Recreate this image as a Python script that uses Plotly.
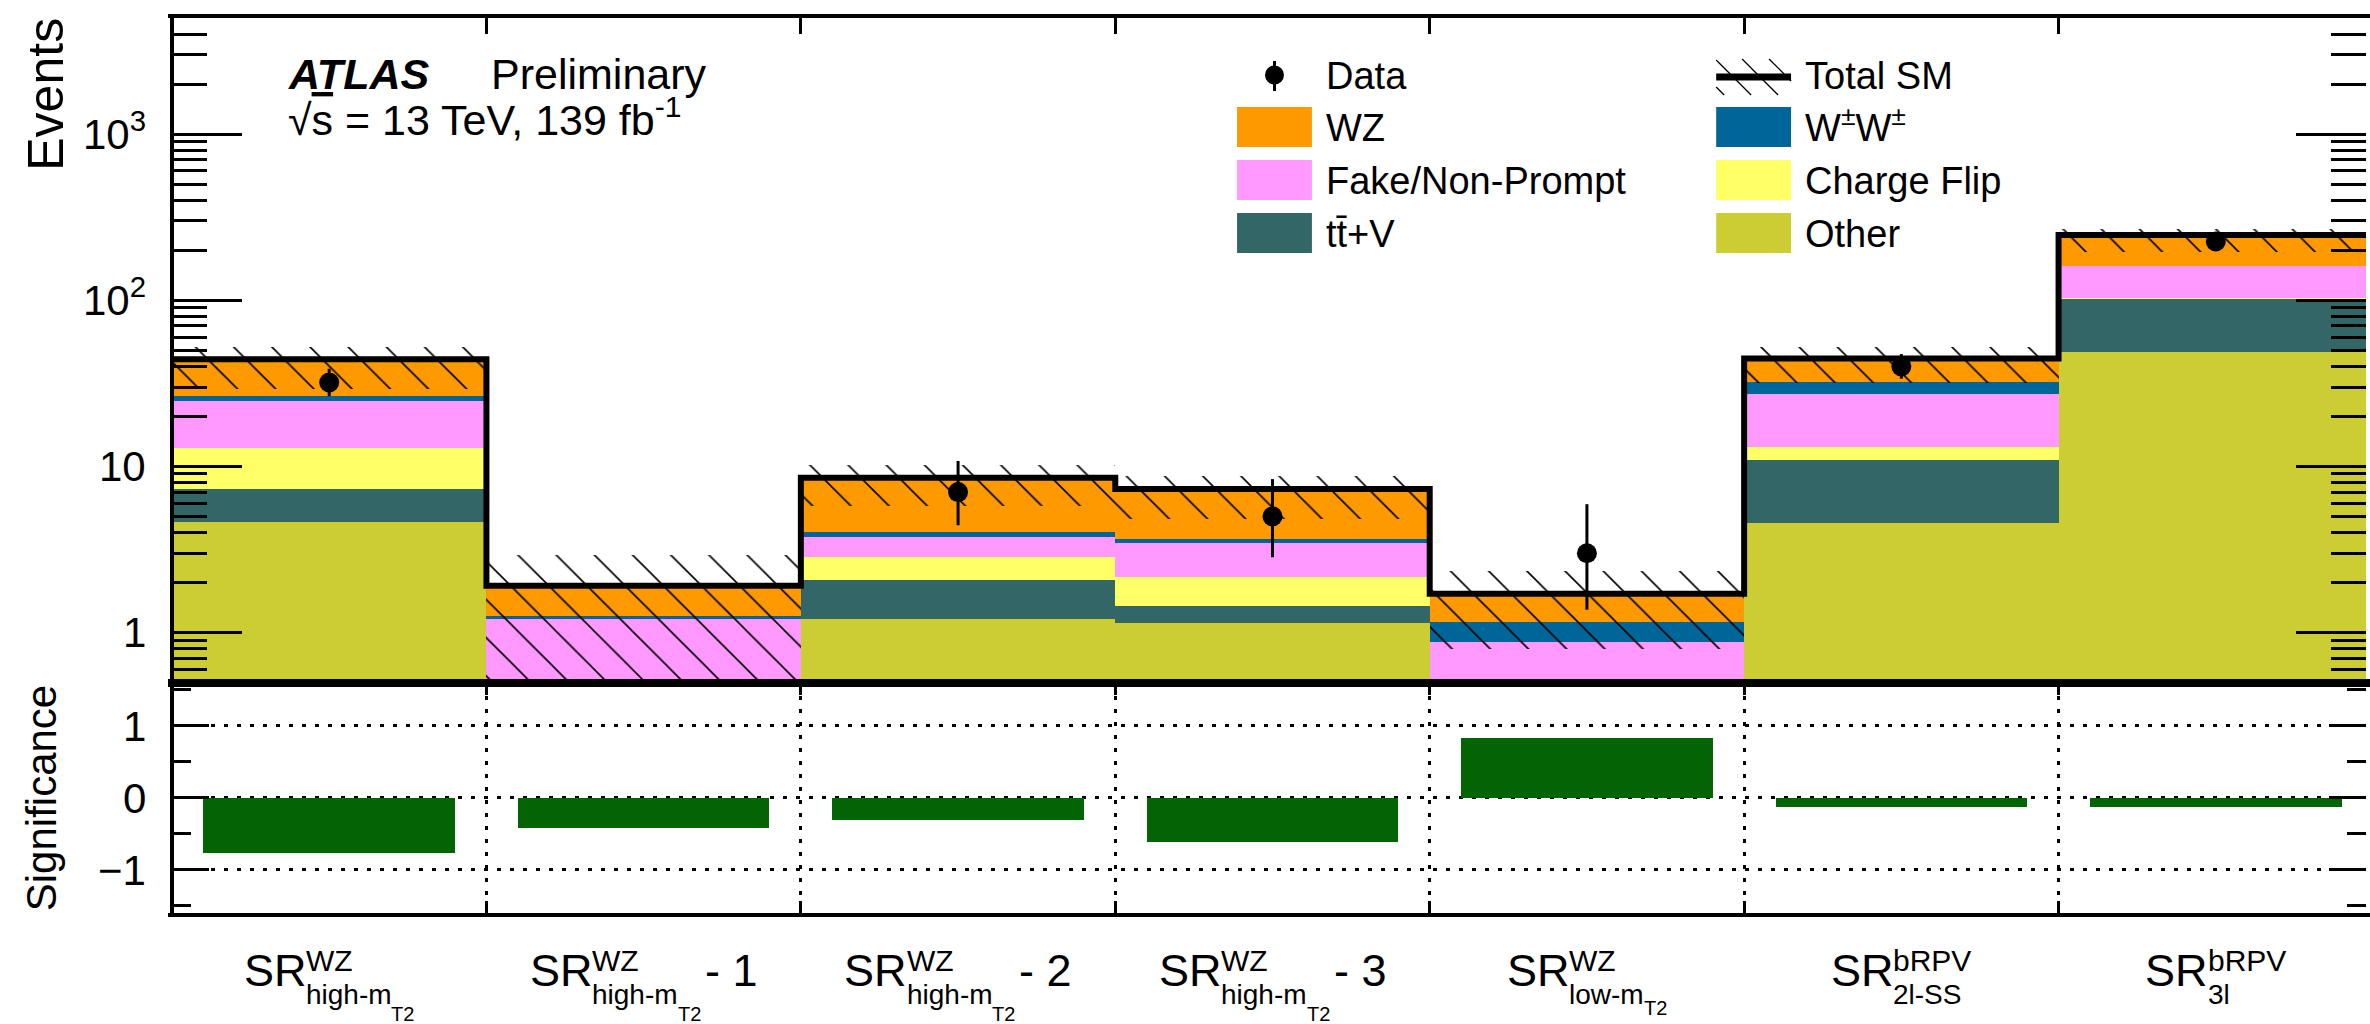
import math
import plotly.graph_objects as go

# ---------------------------------------------------------------
# Expected background yields per signal region (stack bottom -> top)
# ---------------------------------------------------------------
other       = [4.6, 0.04, 1.20, 1.14, 0.06, 4.58, 48.9]
ttv         = [2.7, 0.03, 0.86, 0.31, 0.02, 6.32, 54.1]
charge_flip = [5.6, 0.0, 0.80, 0.70, 0.0, 2.2, 0.2]
fake_np     = [11.9, 1.13, 0.88, 1.29, 0.80, 14.0, 57.7]
ww_ss       = [1.8, 0.06, 0.31, 0.22, 0.27, 4.9, 0.4]
wz          = [17.6, 0.65, 4.50, 3.65, 0.56, 12.6, 85.7]

# total SM uncertainty band (asymmetric)
sm_err_up = [8.2, 1.0, 1.6, 1.5, 0.62, 7.9, 21.0]
sm_err_dn = [14.8, 1.6, 2.8, 2.5, 0.91, 13.0, 53.0]

# observed data with Poisson intervals
data        = [32, 0, 7, 5, 3, 40, 226]
data_err_up = [6.7, 1.84, 3.77, 3.38, 2.92, 7.4, 16.0]
data_err_dn = [5.6, 0.0, 2.58, 2.16, 1.63, 6.3, 15.0]

# significance of data w.r.t. SM expectation
significance = [-0.76, -0.41, -0.30, -0.61, 0.84, -0.12, -0.12]

# bin label pieces: SR^{sup}_{sub_{subsub}} suffix
label_main   = ["SR", "SR", "SR", "SR", "SR", "SR", "SR"]
label_sup    = ["WZ", "WZ", "WZ", "WZ", "WZ", "bRPV", "bRPV"]
label_sub    = ["high-m", "high-m", "high-m", "high-m", "low-m", "2l-SS", "3l"]
label_subsub = ["T2", "T2", "T2", "T2", "T2", "", ""]
label_suffix = ["", "- 1", "- 2", "- 3", "", "", ""]

# y-axis tick labels
main_tickvals = [1, 10, 100, 1000]
main_ticktext = ["1", "10", "10<sup>2</sup>", "10<sup>3</sup>"]
sig_tickvals = [-1, 0, 1]
sig_ticktext = ["\u22121", "0", "1"]

# ---------------------------------------------------------------
# Styling
# ---------------------------------------------------------------
FONT = "Liberation Sans, Arial, Helvetica, sans-serif"
C_WZ, C_WW, C_FAKE = "#FF9900", "#006699", "#FF99FF"
C_CF, C_TTV, C_OTHER = "#FFFF66", "#336666", "#CCCC33"
C_SIG = "#036403"
stack_colors = [C_OTHER, C_TTV, C_CF, C_FAKE, C_WW, C_WZ]

W, H = 2370, 1024
ML, MR, MT, MB = 172, 0, 18, 111
PW, PH = W - ML - MR, H - MT - MB
BIN_PX = 315.0
NBINS = len(data)
XMAX = PW / BIN_PX
SPLIT = (H - MB - 682.5) / PH

centers = [i + 0.5 for i in range(NBINS)]
inner_edges = list(range(1, NBINS))


def paper_x(px):
    return (px - ML) / PW


def paper_y(py):
    return (H - MB - py) / PH


fig = go.Figure()

# stacked backgrounds
running = [0.0] * NBINS
components = [other, ttv, charge_flip, fake_np, ww_ss, wz]
for k, (vals, col) in enumerate(zip(components, stack_colors)):
    fig.add_trace(go.Bar(
        x=centers, y=vals, base=None if k == 0 else list(running), width=1.0,
        marker=dict(color=col, line=dict(width=0)),
        xaxis="x", yaxis="y", hoverinfo="skip"))
    running = [r + v for r, v in zip(running, vals)]
total_sm = running

# hatched uncertainty band
fig.add_trace(go.Bar(
    x=centers,
    y=[u + d for u, d in zip(sm_err_up, sm_err_dn)],
    base=[t - d for t, d in zip(total_sm, sm_err_dn)],
    width=1.0,
    marker=dict(color="rgba(0,0,0,0)", line=dict(width=0),
                pattern=dict(shape="\\", fgcolor="black", bgcolor="rgba(0,0,0,0)",
                             size=27, solidity=0.06, fillmode="replace")),
    xaxis="x", yaxis="y", hoverinfo="skip"))

# total SM outline
fig.add_trace(go.Scatter(
    x=list(range(NBINS + 1)), y=total_sm + [total_sm[-1]],
    mode="lines", line=dict(shape="hv", color="black", width=6),
    xaxis="x", yaxis="y", hoverinfo="skip"))

# data
fig.add_trace(go.Scatter(
    x=centers, y=data, mode="markers",
    marker=dict(color="black", size=20, symbol="circle"),
    error_y=dict(type="data", symmetric=False, array=data_err_up,
                 arrayminus=data_err_dn, thickness=3, width=0, color="black"),
    xaxis="x", yaxis="y", hoverinfo="skip"))

# significance panel
fig.add_trace(go.Bar(
    x=centers, y=significance, width=0.8,
    marker=dict(color=C_SIG, line=dict(width=0)),
    xaxis="x2", yaxis="y2", hoverinfo="skip"))

minor_log = [m * 10 ** e for e in range(-1, 4) for m in range(2, 10)
             if 0.5 <= m * 10 ** e <= 5000]

fig.update_layout(
    width=W, height=H,
    margin=dict(l=ML, r=MR, t=MT, b=MB, pad=0),
    paper_bgcolor="white", plot_bgcolor="white",
    font=dict(family=FONT, color="black"),
    showlegend=False, barmode="overlay", bargap=0,
    xaxis=dict(domain=[0, 1], anchor="y", range=[0, XMAX], side="top",
               tickmode="array", tickvals=inner_edges, ticks="inside",
               ticklen=16, tickwidth=3, tickcolor="black", showticklabels=False,
               showline=True, linewidth=4, linecolor="black", mirror=True,
               showgrid=False, zeroline=False, fixedrange=True),
    yaxis=dict(domain=[SPLIT, 1], anchor="x", type="log",
               range=[-0.30103, 3.69897],
               tickmode="array", tickvals=main_tickvals,
               ticks="inside", ticklen=70, tickwidth=3, tickcolor="black",
               minor=dict(tickmode="array", tickvals=minor_log, ticks="inside",
                          ticklen=35, tickwidth=3, tickcolor="black", showgrid=False),
               showticklabels=False,
               showline=True, linewidth=4, linecolor="rgba(0,0,0,0)", mirror="ticks",
               showgrid=False, zeroline=False),
    xaxis2=dict(domain=[0, 1], anchor="y2", range=[0, XMAX],
                tickmode="array", tickvals=inner_edges, ticks="inside",
                ticklen=12, tickwidth=3, tickcolor="black", showticklabels=False,
                showline=True, linewidth=4, linecolor="black", mirror="ticks",
                showgrid=True, gridcolor="black", gridwidth=3, griddash="4px,9px",
                zeroline=False),
    yaxis2=dict(domain=[0, SPLIT], anchor="x2", range=[-1.6, 1.6],
                tickmode="array", tickvals=sig_tickvals,
                ticks="inside", ticklen=37, tickwidth=3, tickcolor="black",
                minor=dict(tickmode="array", tickvals=[-1.5, -0.5, 0.5, 1.5],
                           ticks="inside", ticklen=19, tickwidth=3,
                           tickcolor="black", showgrid=False),
                showticklabels=False,
                showline=True, linewidth=4, linecolor="rgba(0,0,0,0)", mirror="ticks",
                showgrid=True, gridcolor="black", gridwidth=3, griddash="4px,9px",
                zeroline=False),
)

# left frame of both panels
fig.add_shape(type="line", xref="paper", yref="paper", x0=0, x1=0, y0=0, y1=1,
              line=dict(color="black", width=4), layer="above")

# ---------------------------------------------------------------
# Text helpers
# ---------------------------------------------------------------
DESC = 0.212
CAPMID = 0.358
ARIAL = {"S": 667, "R": 722, "W": 944, "Z": 611, "h": 556, "i": 222, "g": 556,
         "-": 333, "m": 833, "T": 611, "2": 556, " ": 278, "1": 556, "3": 556,
         "l": 222, "o": 556, "w": 722, "b": 556, "P": 667, "V": 667}


def text_width(s, size):
    return sum(ARIAL.get(c, 556) for c in s) / 1000.0 * size


def add_text(text, x_px, base_px, size, anchor="left"):
    fig.add_annotation(
        text=text, xref="paper", yref="paper",
        x=paper_x(x_px), y=paper_y(base_px + DESC * size),
        xanchor=anchor, yanchor="bottom", showarrow=False,
        borderpad=0, borderwidth=0,
        font=dict(family=FONT, size=size, color="black"))


# y tick labels, placed on the axes' own coordinates
S_TICK = 42
TICK_LABEL_RIGHT = 146
for v, t in zip(main_tickvals, main_ticktext):
    fig.add_annotation(text=t, xref="paper", yref="y", x=paper_x(TICK_LABEL_RIGHT),
                       y=math.log10(v), xanchor="right", yanchor="bottom",
                       yshift=-(CAPMID + DESC) * S_TICK, showarrow=False,
                       borderpad=0, borderwidth=0,
                       font=dict(family=FONT, size=S_TICK, color="black"))
for v, t in zip(sig_tickvals, sig_ticktext):
    fig.add_annotation(text=t, xref="paper", yref="y2", x=paper_x(TICK_LABEL_RIGHT),
                       y=v, xanchor="right", yanchor="bottom",
                       yshift=-(CAPMID + DESC) * S_TICK, showarrow=False,
                       borderpad=0, borderwidth=0,
                       font=dict(family=FONT, size=S_TICK, color="black"))

# bin labels below the significance panel
S_MAIN, S_SUP, S_SUB, S_SS = 45, 30, 28, 20
for i in range(NBINS):
    cx = ML + (i + 0.5) * BIN_PX
    w_main = text_width(label_main[i], S_MAIN)
    w_sup = text_width(label_sup[i], S_SUP)
    w_sub = text_width(label_sub[i], S_SUB)
    w_ss = text_width(label_subsub[i], S_SS)
    block = max(w_sup, w_sub + w_ss)
    w_suf = 4 + text_width(label_suffix[i], S_MAIN) if label_suffix[i] else 0
    x0 = cx - (w_main + block + w_suf) / 2
    add_text(label_main[i], x0, 986, S_MAIN)
    add_text(label_sup[i], x0 + w_main, 971, S_SUP)
    add_text(label_sub[i], x0 + w_main, 1004, S_SUB)
    if label_subsub[i]:
        has_desc = any(c in "gjpqy" for c in label_sub[i])
        add_text(label_subsub[i], x0 + w_main + w_sub, 1021 if has_desc else 1015, S_SS)
    if label_suffix[i]:
        add_text(label_suffix[i], x0 + w_main + block + 4, 986, S_MAIN)

# ATLAS label
add_text("<b><i>ATLAS</i></b>", 288, 89, 43)
add_text("Preliminary", 492, 89, 43)
add_text("\u221a<span style=\"text-decoration:overline\">s</span> = 13 TeV, 139 fb<sup>-1</sup>",
         288, 135, 43)

# axis titles
fig.add_annotation(text="Events", xref="paper", yref="paper",
                   x=paper_x(45), y=1, xanchor="center", yanchor="top",
                   textangle=-90, showarrow=False, borderpad=0, borderwidth=0,
                   font=dict(family=FONT, size=50, color="black"))
fig.add_annotation(text="Significance", xref="paper", yref="paper",
                   x=paper_x(41), y=paper_y(798), xanchor="center", yanchor="middle",
                   textangle=-90, showarrow=False, borderpad=0, borderwidth=0,
                   font=dict(family=FONT, size=42, color="black"))

# ---------------------------------------------------------------
# Legend (two columns)
# ---------------------------------------------------------------
LEG_COL_X = [1239, 1719]
LEG_ROW_Y = [75, 127, 180, 233]
BOX_W, BOX_H, TEXT_DX, S_LEG = 75, 40, 89, 38
legend_entries = [
    ("Data", "data", None), ("Total SM", "total", None),
    ("WZ", "box", C_WZ), ("W<sup>\u00b1</sup>W<sup>\u00b1</sup>", "box", C_WW),
    ("Fake/Non-Prompt", "box", C_FAKE), ("Charge Flip", "box", C_CF),
    ("tt\u0304+V", "box", C_TTV), ("Other", "box", C_OTHER),
]


def pshape(kind, x0, y0, x1, y1, **kw):
    fig.add_shape(type=kind, xref="paper", yref="paper",
                  x0=paper_x(x0), x1=paper_x(x1), y0=paper_y(y0), y1=paper_y(y1),
                  layer="above", **kw)


for k, (name, kind, col) in enumerate(legend_entries):
    bx = LEG_COL_X[k % 2]
    cy = LEG_ROW_Y[k // 2]
    if kind == "box":
        pshape("rect", bx, cy - BOX_H / 2, bx + BOX_W, cy + BOX_H / 2,
               fillcolor=col, line=dict(width=0))
    elif kind == "data":
        mx = bx + BOX_W / 2
        pshape("line", mx, cy - 14, mx, cy + 16, line=dict(color="black", width=3))
        pshape("circle", mx - 9.5, cy - 9.5, mx + 9.5, cy + 9.5,
               fillcolor="black", line=dict(width=0))
    else:
        top, bot = cy - 16, cy + 20
        x_left, x_right = bx, bx + BOX_W
        c = x_left - bot + 8
        while c < x_right - top:
            xa = max(x_left, c + top)
            xb = min(x_right, c + bot)
            if xb > xa:
                pshape("line", xa, xa - c, xb, xb - c,
                       line=dict(color="black", width=1.3))
            c += 27
        pshape("line", x_left, cy + 2, x_right, cy + 2,
               line=dict(color="black", width=7))
    add_text(name, bx + TEXT_DX, cy + CAPMID * S_LEG, S_LEG)

fig.write_html("out.html")
